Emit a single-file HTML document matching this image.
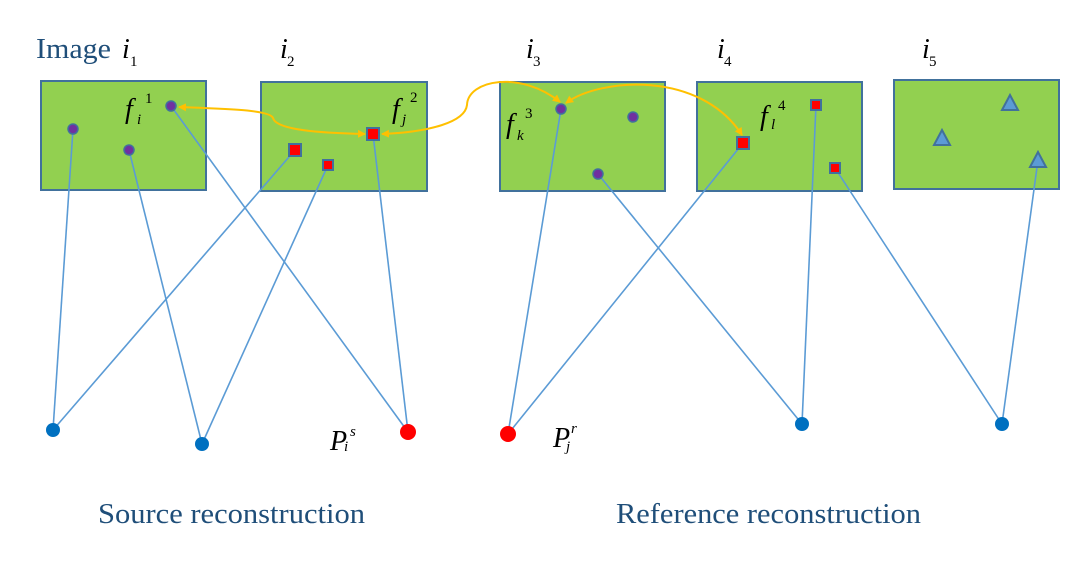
<!DOCTYPE html>
<html><head><meta charset="utf-8"><style>body{margin:0;background:#fff}</style></head>
<body>
<svg width="1089" height="556" xmlns="http://www.w3.org/2000/svg" font-family="Liberation Serif, serif">
<defs>
<marker id="a" markerWidth="8" markerHeight="8" refX="7" refY="4" orient="auto" markerUnits="userSpaceOnUse"><path d="M0,0 L8,4 L0,8 z" fill="#ffc000"/></marker>
<marker id="b" markerWidth="8" markerHeight="8" refX="1" refY="4" orient="auto" markerUnits="userSpaceOnUse"><path d="M8,0 L0,4 L8,8 z" fill="#ffc000"/></marker>
</defs>
<g fill="#92d050" stroke="#41719c" stroke-width="2">
<rect x="41" y="81" width="165" height="109"/>
<rect x="261" y="82" width="166" height="109"/>
<rect x="500" y="82" width="165" height="109"/>
<rect x="697" y="82" width="165" height="109"/>
<rect x="894" y="80" width="165" height="109"/>
</g>
<g stroke="#5b9bd5" stroke-width="1.6" fill="none">
<line x1="73" y1="129" x2="53" y2="430"/><line x1="295" y1="150" x2="53" y2="430"/>
<line x1="129" y1="150" x2="202" y2="444"/><line x1="328" y1="165" x2="202" y2="444"/>
<line x1="171" y1="106" x2="408" y2="432"/><line x1="373" y1="134" x2="408" y2="432"/>
<line x1="561" y1="109" x2="508" y2="434"/><line x1="743" y1="143" x2="508" y2="434"/>
<line x1="598" y1="174" x2="802" y2="424"/><line x1="816" y1="105" x2="802" y2="424"/>
<line x1="835" y1="168" x2="1002" y2="424"/><line x1="1038" y1="160" x2="1002" y2="424"/>
</g>
<g stroke="#ffc000" stroke-width="2" fill="none">
<path d="M179,107 C230,109 270,110 273,118 C276,130 320,133 365,134" marker-start="url(#b)" marker-end="url(#a)"/>
<path d="M382,134 C430,132 465,122 467,105 C468,80 520,70 560,102" marker-start="url(#b)" marker-end="url(#a)"/>
<path d="M566,103 C600,78 700,70 742,135" marker-start="url(#b)" marker-end="url(#a)"/>
</g>
<g fill="#7030a0" stroke="#41719c" stroke-width="1.5">
<circle cx="73" cy="129" r="5"/><circle cx="129" cy="150" r="5"/><circle cx="171" cy="106" r="5"/>
<circle cx="561" cy="109" r="5"/><circle cx="633" cy="117" r="5"/><circle cx="598" cy="174" r="5"/>
</g>
<g fill="#ff0000" stroke="#41719c" stroke-width="2">
<rect x="289" y="144" width="12" height="12"/><rect x="323" y="160" width="10" height="10"/><rect x="367" y="128" width="12" height="12"/>
<rect x="737" y="137" width="12" height="12"/><rect x="811" y="100" width="10" height="10"/><rect x="830" y="163" width="10" height="10"/>
</g>
<g fill="#5b9bd5" stroke="#41719c" stroke-width="2">
<polygon points="1010,95 1002,110 1018,110"/><polygon points="942,130 934,145 950,145"/><polygon points="1038,152 1030,167 1046,167"/>
</g>
<circle cx="53" cy="430" r="7" fill="#0070c0"/><circle cx="202" cy="444" r="7" fill="#0070c0"/>
<circle cx="408" cy="432" r="8" fill="#ff0000"/><circle cx="508" cy="434" r="8" fill="#ff0000"/>
<circle cx="802" cy="424" r="7" fill="#0070c0"/><circle cx="1002" cy="424" r="7" fill="#0070c0"/>
<text x="36" y="58" font-size="28" fill="#1f4e79" textLength="75" lengthAdjust="spacingAndGlyphs">Image</text>
<g font-style="italic" font-size="28" fill="#000">
<text x="122" y="58">i</text><text x="280" y="58">i</text><text x="526" y="58">i</text><text x="717" y="58">i</text><text x="922" y="58">i</text>
<text x="125" y="118">f</text><text x="392" y="118">f</text><text x="506" y="133">f</text><text x="760" y="125">f</text>
<text x="330" y="450">P</text><text x="553" y="447">P</text>
</g>
<g font-size="15" fill="#000">
<text x="130" y="66">1</text><text x="287" y="66">2</text><text x="533" y="66">3</text><text x="724" y="66">4</text><text x="929" y="66">5</text>
<text x="145" y="103">1</text><text x="410" y="102">2</text><text x="525" y="118">3</text><text x="778" y="110">4</text>
</g>
<g font-size="15" font-style="italic" fill="#000">
<text x="137" y="124">i</text><text x="402" y="124">j</text><text x="517" y="140">k</text><text x="771" y="129">l</text>
<text x="344" y="451">i</text><text x="350" y="436">s</text><text x="566" y="451">j</text><text x="571" y="433">r</text>
</g>
<text x="98" y="523" font-size="28" fill="#1f4e79" textLength="267" lengthAdjust="spacingAndGlyphs">Source reconstruction</text>
<text x="616" y="523" font-size="28" fill="#1f4e79" textLength="305" lengthAdjust="spacingAndGlyphs">Reference reconstruction</text>
</svg>
</body></html>
